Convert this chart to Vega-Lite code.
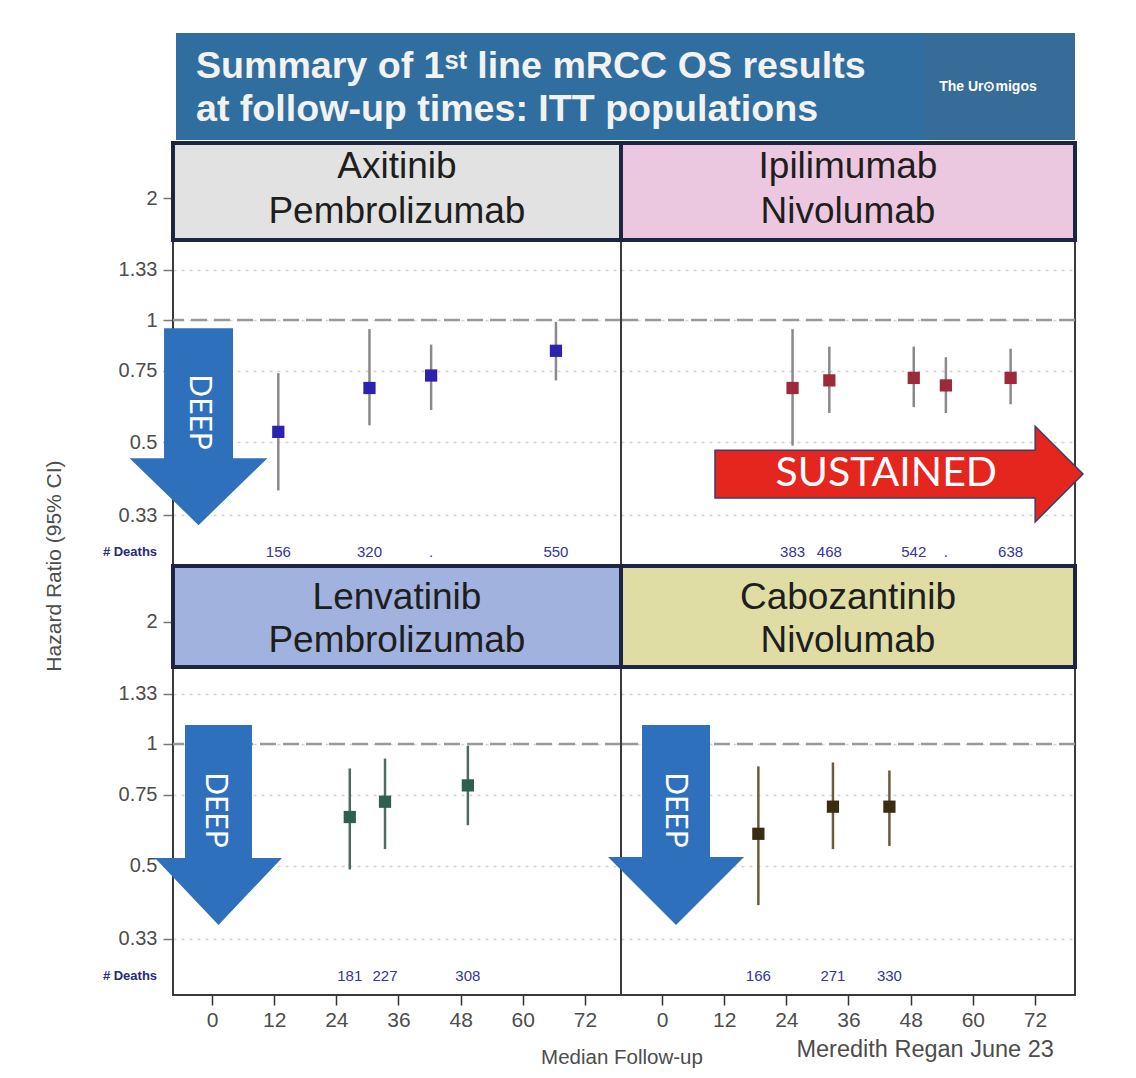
{
  "$schema": "https://vega.github.io/schema/vega-lite/v6.json",
  "background": "white",
  "autosize": {"type": "pad"},
  "padding": {"left": 44, "top": 33, "right": 5, "bottom": 5},
  "columns": 2,
  "spacing": 0,
  "bounds": "flush",
  "datasets": {
    "points": [
      {"panel": "TL", "months": 12.8, "hr": 0.53, "lo": 0.38, "hi": 0.74, "deaths": "156"},
      {"panel": "TL", "months": 30.4, "hr": 0.68, "lo": 0.55, "hi": 0.95, "deaths": "320"},
      {"panel": "TL", "months": 42.3, "hr": 0.73, "lo": 0.60, "hi": 0.87, "deaths": "."},
      {"panel": "TL", "months": 66.4, "hr": 0.84, "lo": 0.71, "hi": 0.99, "deaths": "550"},
      {"panel": "TR", "months": 25.2, "hr": 0.68, "lo": 0.49, "hi": 0.95, "deaths": "383"},
      {"panel": "TR", "months": 32.3, "hr": 0.71, "lo": 0.59, "hi": 0.86, "deaths": "468"},
      {"panel": "TR", "months": 48.6, "hr": 0.72, "lo": 0.61, "hi": 0.86, "deaths": "542"},
      {"panel": "TR", "months": 54.8, "hr": 0.69, "lo": 0.59, "hi": 0.81, "deaths": "."},
      {"panel": "TR", "months": 67.3, "hr": 0.72, "lo": 0.62, "hi": 0.85, "deaths": "638"},
      {"panel": "BL", "months": 26.6, "hr": 0.66, "lo": 0.49, "hi": 0.87, "deaths": "181"},
      {"panel": "BL", "months": 33.4, "hr": 0.72, "lo": 0.55, "hi": 0.92, "deaths": "227"},
      {"panel": "BL", "months": 49.4, "hr": 0.79, "lo": 0.63, "hi": 0.99, "deaths": "308"},
      {"panel": "BR", "months": 18.6, "hr": 0.60, "lo": 0.40, "hi": 0.88, "deaths": "166"},
      {"panel": "BR", "months": 33.0, "hr": 0.70, "lo": 0.55, "hi": 0.90, "deaths": "271"},
      {"panel": "BR", "months": 43.9, "hr": 0.70, "lo": 0.56, "hi": 0.86, "deaths": "330"}
    ]
  },
  "concat": [
    {
      "width": 448, "height": 533,
      "layer": [
        {"data": {"values": [{}]},
         "mark": {"type": "rect", "filled": false, "color": "#3a3a3a", "strokeWidth": 2},
         "encoding": {
           "x": {"datum": -7.53, "type": "quantitative", "scale": {"domain": [-7.53, 78.96], "nice": false, "zero": false}, "axis": null},
           "x2": {"datum": 78.96},
           "y": {"datum": 0.2474, "type": "quantitative", "scale": {"type": "log", "domain": [0.2474, 5.107], "nice": false},
                 "axis": {"values": [0.33, 0.5, 0.75, 1, 1.33, 2], "format": "~g", "title": null, "domain": false, "grid": true, "gridDash": [3, 5], "gridColor": "#d2d2d2", "gridWidth": 1.5, "labelFontSize": 20, "labelColor": "#4d4d4d", "tickColor": "#777777", "tickSize": 10, "tickWidth": 1.5, "labelPadding": 6, "labelOverlap": false}},
           "y2": {"datum": 1.576}
         }},
        {"data": {"values": [{}]},
         "mark": {"type": "rect", "fill": "#e2e2e2", "stroke": "#1c2541", "strokeWidth": 4},
         "encoding": {"x": {"datum": -7.53}, "x2": {"datum": 78.96}, "y": {"datum": 1.576}, "y2": {"datum": 2.734}}},
        {"data": {"values": [{}]},
         "mark": {"type": "text", "text": "Axitinib", "font": "Liberation Sans", "fontSize": 37, "color": "#1e1e1e", "align": "center", "baseline": "middle"},
         "encoding": {"x": {"datum": 35.7}, "y": {"datum": 2.385}}},
        {"data": {"values": [{}]},
         "mark": {"type": "text", "text": "Pembrolizumab", "font": "Liberation Sans", "fontSize": 37, "color": "#1e1e1e", "align": "center", "baseline": "middle"},
         "encoding": {"x": {"datum": 35.7}, "y": {"datum": 1.847}}},
        {"data": {"values": [{}]},
         "mark": {"type": "rect", "fill": "#2f6e9e"},
         "encoding": {"x": {"datum": -6.95}, "x2": {"datum": 166.6}, "y": {"datum": 2.78}, "y2": {"datum": 5.107}}},
        {"data": {"values": [{}]},
         "mark": {"type": "rect", "fill": "#366c97"},
         "encoding": {"x": {"datum": 137.6}, "x2": {"datum": 166.6}, "y": {"datum": 2.78}, "y2": {"datum": 5.107}}},
        {"data": {"values": [{}]},
         "mark": {"type": "text", "text": "Summary of 1ˢᵗ line mRCC OS results", "font": "Liberation Sans", "fontWeight": "bold", "fontSize": 37.6, "color": "#f2f2f2", "align": "left", "baseline": "middle"},
         "encoding": {"x": {"datum": -3.09}, "y": {"datum": 4.21}}},
        {"data": {"values": [{}]},
         "mark": {"type": "text", "text": "at follow-up times: ITT populations", "font": "Liberation Sans", "fontWeight": "bold", "fontSize": 37.6, "color": "#f2f2f2", "align": "left", "baseline": "middle"},
         "encoding": {"x": {"datum": -3.09}, "y": {"datum": 3.297}}},
        {"data": {"values": [{}]},
         "mark": {"type": "text", "text": "The Ur⊙migos", "font": "Liberation Sans", "fontWeight": "bold", "fontSize": 14, "color": "#ffffff", "align": "center", "baseline": "middle"},
         "encoding": {"x": {"datum": 149.8}, "y": {"datum": 3.758}}},
        {"data": {"values": [{}]},
         "mark": {"type": "rule", "color": "#9a9a9a", "strokeWidth": 2.5, "strokeDash": [16, 7]},
         "encoding": {"y": {"datum": 1}}},
        {"data": {"values": [{}]},
         "mark": {"type": "point", "filled": true, "opacity": 1, "color": "#2f70bd", "size": 38809,
                  "shape": "M-0.35,-1 L0.35,-1 L0.35,0.32 L0.7,0.32 L0,1 L-0.7,0.32 L-0.35,0.32 Z"},
         "encoding": {"x": {"datum": -2.6}, "y": {"datum": 0.546}}},
        {"data": {"values": [{}]},
         "mark": {"type": "text", "text": "DEEP", "font": "Lato", "fontSize": 30, "color": "#ffffff", "angle": 90, "align": "center", "baseline": "middle"},
         "encoding": {"x": {"datum": -2.6}, "y": {"datum": 0.593}}},
        {"data": {"name": "points"}, "transform": [{"filter": "datum.panel === 'TL'"}],
         "mark": {"type": "rule", "color": "#8a8a8a", "strokeWidth": 2.5},
         "encoding": {"x": {"field": "months", "type": "quantitative"}, "y": {"field": "lo", "type": "quantitative"}, "y2": {"field": "hi"}}},
        {"data": {"name": "points"}, "transform": [{"filter": "datum.panel === 'TL'"}],
         "mark": {"type": "square", "filled": true, "opacity": 1, "color": "#2b22b0", "size": 150},
         "encoding": {"x": {"field": "months", "type": "quantitative"}, "y": {"field": "hr", "type": "quantitative"}}},
        {"data": {"name": "points"}, "transform": [{"filter": "datum.panel === 'TL'"}],
         "mark": {"type": "text", "font": "Liberation Sans", "fontSize": 15, "color": "#35359a", "align": "center", "baseline": "middle"},
         "encoding": {"x": {"field": "months", "type": "quantitative"}, "y": {"datum": 0.268}, "text": {"field": "deaths"}}},
        {"data": {"values": [{}]},
         "mark": {"type": "text", "text": "# Deaths", "font": "Liberation Sans", "fontWeight": "bold", "fontSize": 13, "color": "#2a2a7a", "align": "right", "baseline": "middle"},
         "encoding": {"x": {"datum": -10.6}, "y": {"datum": 0.268}}}
      ]
    },
    {
      "width": 454, "height": 533,
      "layer": [
        {"data": {"values": [{}]},
         "mark": {"type": "rect", "filled": false, "color": "#3a3a3a", "strokeWidth": 2},
         "encoding": {
           "x": {"datum": -7.92, "type": "quantitative", "scale": {"domain": [-7.92, 79.73], "nice": false, "zero": false}, "axis": null},
           "x2": {"datum": 79.73},
           "y": {"datum": 0.2474, "type": "quantitative", "scale": {"type": "log", "domain": [0.2474, 5.107], "nice": false},
                 "axis": {"values": [0.33, 0.5, 0.75, 1, 1.33, 2], "title": null, "domain": false, "grid": true, "gridDash": [3, 5], "gridColor": "#d2d2d2", "gridWidth": 1.5, "labels": false, "ticks": false}},
           "y2": {"datum": 1.576}
         }},
        {"data": {"values": [{}]},
         "mark": {"type": "rect", "fill": "#ecc8e0", "stroke": "#1c2541", "strokeWidth": 4},
         "encoding": {"x": {"datum": -7.92}, "x2": {"datum": 79.73}, "y": {"datum": 1.576}, "y2": {"datum": 2.734}}},
        {"data": {"values": [{}]},
         "mark": {"type": "text", "text": "Ipilimumab", "font": "Liberation Sans", "fontSize": 37, "color": "#1e1e1e", "align": "center", "baseline": "middle"},
         "encoding": {"x": {"datum": 35.9}, "y": {"datum": 2.385}}},
        {"data": {"values": [{}]},
         "mark": {"type": "text", "text": "Nivolumab", "font": "Liberation Sans", "fontSize": 37, "color": "#1e1e1e", "align": "center", "baseline": "middle"},
         "encoding": {"x": {"datum": 35.9}, "y": {"datum": 1.847}}},
        {"data": {"values": [{}]},
         "mark": {"type": "rule", "color": "#9a9a9a", "strokeWidth": 2.5, "strokeDash": [16, 7]},
         "encoding": {"y": {"datum": 1}}},
        {"data": {"name": "points"}, "transform": [{"filter": "datum.panel === 'TR'"}],
         "mark": {"type": "rule", "color": "#8a8a8a", "strokeWidth": 2.5},
         "encoding": {"x": {"field": "months", "type": "quantitative"}, "y": {"field": "lo", "type": "quantitative"}, "y2": {"field": "hi"}}},
        {"data": {"name": "points"}, "transform": [{"filter": "datum.panel === 'TR'"}],
         "mark": {"type": "square", "filled": true, "opacity": 1, "color": "#9c2a3a", "size": 150},
         "encoding": {"x": {"field": "months", "type": "quantitative"}, "y": {"field": "hr", "type": "quantitative"}}},
        {"data": {"name": "points"}, "transform": [{"filter": "datum.panel === 'TR'"}],
         "mark": {"type": "text", "font": "Liberation Sans", "fontSize": 15, "color": "#35359a", "align": "center", "baseline": "middle"},
         "encoding": {"x": {"field": "months", "type": "quantitative"}, "y": {"datum": 0.268}, "text": {"field": "deaths"}}},
        {"data": {"values": [{}]},
         "mark": {"type": "point", "filled": true, "opacity": 1, "color": "#e5261f", "stroke": "#3d3c6e", "strokeWidth": 1.5, "size": 135424,
                  "shape": "M-1,-0.13 L0.74,-0.13 L0.74,-0.26 L1,0 L0.74,0.26 L0.74,0.13 L-1,0.13 Z"},
         "encoding": {"x": {"datum": 45.75}, "y": {"datum": 0.417}}},
        {"data": {"values": [{}]},
         "mark": {"type": "text", "text": "SUSTAINED", "font": "Lato", "fontSize": 41, "color": "#ffffff", "align": "center", "baseline": "middle"},
         "encoding": {"x": {"datum": 43.3}, "y": {"datum": 0.417}}}
      ]
    },
    {
      "width": 448, "height": 429,
      "layer": [
        {"data": {"values": [{}]},
         "mark": {"type": "rect", "filled": false, "color": "#3a3a3a", "strokeWidth": 2},
         "encoding": {
           "x": {"datum": -7.53, "type": "quantitative", "scale": {"domain": [-7.53, 78.96], "nice": false, "zero": false},
                 "axis": {"values": [0, 12, 24, 36, 48, 60, 72], "title": null, "domain": false, "grid": false, "labelFontSize": 21, "labelColor": "#4d4d4d", "tickColor": "#333333", "tickSize": 10, "tickWidth": 1.5, "labelPadding": 4, "labelFlush": false}},
           "x2": {"datum": 78.96},
           "y": {"datum": 0.24, "type": "quantitative", "scale": {"type": "log", "domain": [0.24, 2.749], "nice": false},
                 "axis": {"values": [0.33, 0.5, 0.75, 1, 1.33, 2], "format": "~g", "title": null, "domain": false, "grid": true, "gridDash": [3, 5], "gridColor": "#d2d2d2", "gridWidth": 1.5, "labelFontSize": 20, "labelColor": "#4d4d4d", "tickColor": "#777777", "tickSize": 10, "tickWidth": 1.5, "labelPadding": 6, "labelOverlap": false}},
           "y2": {"datum": 1.549}
         }},
        {"data": {"values": [{}]},
         "mark": {"type": "rect", "fill": "#a0b2dd", "stroke": "#1c2541", "strokeWidth": 4},
         "encoding": {"x": {"datum": -7.53}, "x2": {"datum": 78.96}, "y": {"datum": 1.549}, "y2": {"datum": 2.749}}},
        {"data": {"values": [{}]},
         "mark": {"type": "text", "text": "Lenvatinib", "font": "Liberation Sans", "fontSize": 37, "color": "#1e1e1e", "align": "center", "baseline": "middle"},
         "encoding": {"x": {"datum": 35.7}, "y": {"datum": 2.29}}},
        {"data": {"values": [{}]},
         "mark": {"type": "text", "text": "Pembrolizumab", "font": "Liberation Sans", "fontSize": 37, "color": "#1e1e1e", "align": "center", "baseline": "middle"},
         "encoding": {"x": {"datum": 35.7}, "y": {"datum": 1.795}}},
        {"data": {"values": [{}]},
         "mark": {"type": "rule", "color": "#9a9a9a", "strokeWidth": 2.5, "strokeDash": [16, 7]},
         "encoding": {"y": {"datum": 1}}},
        {"data": {"values": [{}]},
         "mark": {"type": "point", "filled": true, "opacity": 1, "color": "#2f70bd", "size": 40000,
                  "shape": "M-0.335,-1 L0.335,-1 L0.335,0.33 L0.635,0.33 L0,1 L-0.635,0.33 L-0.335,0.33 Z"},
         "encoding": {"x": {"datum": 1.25}, "y": {"datum": 0.631}}},
        {"data": {"values": [{}]},
         "mark": {"type": "text", "text": "DEEP", "font": "Lato", "fontSize": 30, "color": "#ffffff", "angle": 90, "align": "center", "baseline": "middle"},
         "encoding": {"x": {"datum": 0.58}, "y": {"datum": 0.687}}},
        {"data": {"name": "points"}, "transform": [{"filter": "datum.panel === 'BL'"}],
         "mark": {"type": "rule", "color": "#4d6b60", "strokeWidth": 2.5},
         "encoding": {"x": {"field": "months", "type": "quantitative"}, "y": {"field": "lo", "type": "quantitative"}, "y2": {"field": "hi"}}},
        {"data": {"name": "points"}, "transform": [{"filter": "datum.panel === 'BL'"}],
         "mark": {"type": "square", "filled": true, "opacity": 1, "color": "#2e5f4f", "size": 150},
         "encoding": {"x": {"field": "months", "type": "quantitative"}, "y": {"field": "hr", "type": "quantitative"}}},
        {"data": {"name": "points"}, "transform": [{"filter": "datum.panel === 'BL'"}],
         "mark": {"type": "text", "font": "Liberation Sans", "fontSize": 15, "color": "#35359a", "align": "center", "baseline": "middle"},
         "encoding": {"x": {"field": "months", "type": "quantitative"}, "y": {"datum": 0.268}, "text": {"field": "deaths"}}},
        {"data": {"values": [{}]},
         "mark": {"type": "text", "text": "# Deaths", "font": "Liberation Sans", "fontWeight": "bold", "fontSize": 13, "color": "#2a2a7a", "align": "right", "baseline": "middle"},
         "encoding": {"x": {"datum": -10.6}, "y": {"datum": 0.268}}},
        {"data": {"values": [{}]},
         "mark": {"type": "text", "text": "Hazard Ratio (95% CI)", "font": "Liberation Sans", "fontSize": 21, "color": "#4d4d4d", "angle": 270, "align": "center", "baseline": "middle"},
         "encoding": {"x": {"datum": -30.3}, "y": {"datum": 2.749}}},
        {"data": {"values": [{}]},
         "mark": {"type": "text", "text": "Median Follow-up", "font": "Liberation Sans", "fontSize": 20.5, "color": "#4d4d4d", "align": "center", "baseline": "middle"},
         "encoding": {"x": {"datum": 79.15}, "y": {"datum": 0.1678}}}
      ]
    },
    {
      "width": 454, "height": 429,
      "layer": [
        {"data": {"values": [{}]},
         "mark": {"type": "rect", "filled": false, "color": "#3a3a3a", "strokeWidth": 2},
         "encoding": {
           "x": {"datum": -7.92, "type": "quantitative", "scale": {"domain": [-7.92, 79.73], "nice": false, "zero": false},
                 "axis": {"values": [0, 12, 24, 36, 48, 60, 72], "title": null, "domain": false, "grid": false, "labelFontSize": 21, "labelColor": "#4d4d4d", "tickColor": "#333333", "tickSize": 10, "tickWidth": 1.5, "labelPadding": 4, "labelFlush": false}},
           "x2": {"datum": 79.73},
           "y": {"datum": 0.24, "type": "quantitative", "scale": {"type": "log", "domain": [0.24, 2.749], "nice": false},
                 "axis": {"values": [0.33, 0.5, 0.75, 1, 1.33, 2], "title": null, "domain": false, "grid": true, "gridDash": [3, 5], "gridColor": "#d2d2d2", "gridWidth": 1.5, "labels": false, "ticks": false}},
           "y2": {"datum": 1.549}
         }},
        {"data": {"values": [{}]},
         "mark": {"type": "rect", "fill": "#dfdca4", "stroke": "#1c2541", "strokeWidth": 4},
         "encoding": {"x": {"datum": -7.92}, "x2": {"datum": 79.73}, "y": {"datum": 1.549}, "y2": {"datum": 2.749}}},
        {"data": {"values": [{}]},
         "mark": {"type": "text", "text": "Cabozantinib", "font": "Liberation Sans", "fontSize": 37, "color": "#1e1e1e", "align": "center", "baseline": "middle"},
         "encoding": {"x": {"datum": 35.9}, "y": {"datum": 2.29}}},
        {"data": {"values": [{}]},
         "mark": {"type": "text", "text": "Nivolumab", "font": "Liberation Sans", "fontSize": 37, "color": "#1e1e1e", "align": "center", "baseline": "middle"},
         "encoding": {"x": {"datum": 35.9}, "y": {"datum": 1.795}}},
        {"data": {"values": [{}]},
         "mark": {"type": "rule", "color": "#9a9a9a", "strokeWidth": 2.5, "strokeDash": [16, 7]},
         "encoding": {"y": {"datum": 1}}},
        {"data": {"values": [{}]},
         "mark": {"type": "point", "filled": true, "opacity": 1, "color": "#2f70bd", "size": 40000,
                  "shape": "M-0.34,-1 L0.34,-1 L0.34,0.32 L0.68,0.32 L0,1 L-0.68,0.32 L-0.34,0.32 Z"},
         "encoding": {"x": {"datum": 2.7}, "y": {"datum": 0.631}}},
        {"data": {"values": [{}]},
         "mark": {"type": "text", "text": "DEEP", "font": "Lato", "fontSize": 30, "color": "#ffffff", "angle": 90, "align": "center", "baseline": "middle"},
         "encoding": {"x": {"datum": 2.6}, "y": {"datum": 0.687}}},
        {"data": {"name": "points"}, "transform": [{"filter": "datum.panel === 'BR'"}],
         "mark": {"type": "rule", "color": "#6b5c40", "strokeWidth": 2.5},
         "encoding": {"x": {"field": "months", "type": "quantitative"}, "y": {"field": "lo", "type": "quantitative"}, "y2": {"field": "hi"}}},
        {"data": {"name": "points"}, "transform": [{"filter": "datum.panel === 'BR'"}],
         "mark": {"type": "square", "filled": true, "opacity": 1, "color": "#3a2c10", "size": 150},
         "encoding": {"x": {"field": "months", "type": "quantitative"}, "y": {"field": "hr", "type": "quantitative"}}},
        {"data": {"name": "points"}, "transform": [{"filter": "datum.panel === 'BR'"}],
         "mark": {"type": "text", "font": "Liberation Sans", "fontSize": 15, "color": "#35359a", "align": "center", "baseline": "middle"},
         "encoding": {"x": {"field": "months", "type": "quantitative"}, "y": {"datum": 0.268}, "text": {"field": "deaths"}}},
        {"data": {"values": [{}]},
         "mark": {"type": "text", "text": "Meredith Regan June 23", "font": "Liberation Sans", "fontSize": 23.5, "color": "#4d4d4d", "align": "center", "baseline": "middle"},
         "encoding": {"x": {"datum": 50.8}, "y": {"datum": 0.1757}}}
      ]
    }
  ],
  "config": {
    "view": {"stroke": null},
    "font": "Liberation Sans",
    "axis": {"labelFont": "Liberation Sans"}
  }
}
